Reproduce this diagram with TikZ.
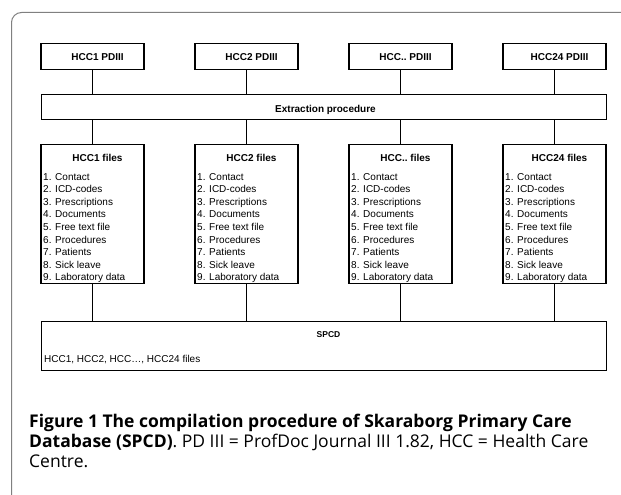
\documentclass[tikz,border=0pt]{standalone}
\usepackage{fontspec}
\setmainfont{Liberation Sans}
\newfontfamily\capfont{Open Sans}
\begin{document}
\begin{tikzpicture}[x=1pt,y=-1pt,
  boxline/.style={draw=black,line width=1.3pt,inner sep=0pt},
  topbox/.style={boxline,minimum width=103pt,minimum height=26pt,anchor=north},
  filebox/.style={boxline,minimum width=103pt,minimum height=139pt,anchor=north},
  widebox/.style={boxline,minimum width=565pt,anchor=north west},
  conn/.style={draw=black,line width=1pt},
  lbl/.style={anchor=base,inner sep=0pt,font=\fontsize{10}{12}\selectfont\bfseries},
  item/.style={anchor=base west,inner sep=0pt,font=\fontsize{10}{12}\selectfont},
  capline/.style={anchor=base west,inner sep=0pt,font=\capfont\fontsize{17.5}{20}\selectfont},
  frame/.style={draw=black!50,line width=1pt}]
\useasboundingbox (0,0) rectangle (621,495);
% outer frame
\draw[frame,rounded corners=10pt] (11.5,497) -- (11.5,12.5) -- (623,12.5);
% wide boxes
\node[widebox,minimum height=25pt] (ex) at (41,94) {};
\node[widebox,minimum height=49pt] (db) at (41,321) {};
\node[lbl] (exl) at (325.5,112) {Extraction procedure};
\node[lbl,font=\fontsize{8.5}{10}\selectfont\bfseries] (dbl) at (328.5,337) {SPCD};
\node[item] (dbt) at (44,362) {HCC1, HCC2, HCC…, HCC24 files};
% columns
\foreach \c/\x/\n in {1/92.5/HCC1,2/246.5/HCC2,3/400.5/HCC..,4/554.5/HCC24}{
  \node[topbox] (p\c) at (\x,43) {};
  \node[lbl] (pl\c) at (\x+5,61) {\n\ PDIII};
  \node[filebox] (f\c) at (\x,144) {};
  \node[lbl] (fl\c) at (\x+5,161) {\n\ files};
  \foreach \t [count=\i] in {Contact,ICD-codes,Prescriptions,Documents,Free text file,Procedures,Patients,Sick leave,Laboratory data}{
    \node[item] (fi\c-\i) at (\x-49.5,{167.4+12.6*\i}) {\i. \t};
  }
  \draw[conn] (p\c.south) -- (p\c.south |- ex.north);
  \draw[conn] (f\c.north |- ex.south) -- (f\c.north);
  \draw[conn] (f\c.south) -- (f\c.south |- db.north);
}
% caption
\node[capline] (c1) at (29,427) {\bfseries Figure 1 The compilation procedure of Skaraborg Primary Care};
\node[capline] (c2) at (29,447) {\textbf{Database (SPCD)}. PD III = ProfDoc Journal III 1.82, HCC = Health Care};
\node[capline] (c3) at (29,467) {Centre.};
\end{tikzpicture}
\end{document}
